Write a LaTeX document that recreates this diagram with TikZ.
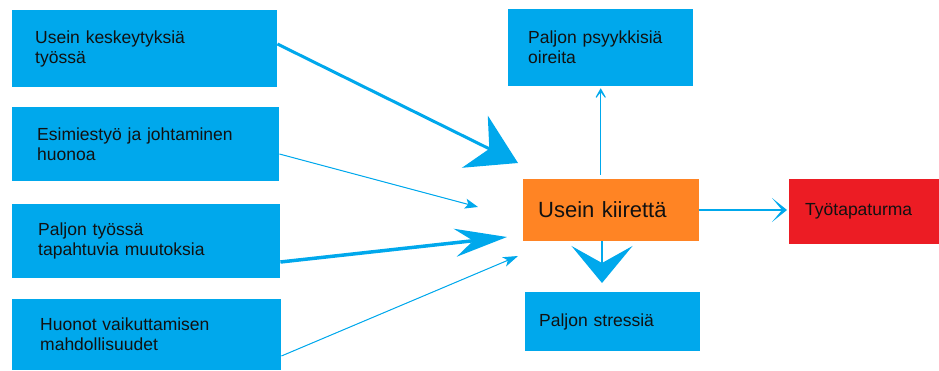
\documentclass[tikz,border=0pt]{standalone}
\usepackage{fontspec}
\setmainfont{Liberation Sans}
\usetikzlibrary{arrows.meta}
\definecolor{cblue}{HTML}{00A8EC}
\definecolor{corange}{HTML}{FF8424}
\definecolor{cred}{HTML}{EC1C24}
\definecolor{ctext}{HTML}{111111}
\begin{document}
\begin{tikzpicture}[x=1pt,y=-1pt,
  box/.style={fill=cblue, anchor=west, align=left, inner ysep=0pt,
    font=\fontsize{17.5}{20}\selectfont, text=ctext},
  conn/.style={draw=cblue, fill=cblue}]
\useasboundingbox (0,0) rectangle (939,370);
% left boxes
\node[box, minimum height=77pt, inner xsep=23pt, text width=219pt] (b1) at (12,48.5) {Usein keskeytyksiä\\työssä};
\node[box, minimum height=74pt, inner xsep=25pt, text width=217pt] (b2) at (12,144) {Esimiestyö ja johtaminen\\huonoa};
\node[box, minimum height=74pt, inner xsep=26pt, text width=216pt] (b3) at (12,241) {Paljon työssä\\tapahtuvia muutoksia};
\node[box, minimum height=71pt, inner xsep=28pt, text width=213pt] (b4) at (12,334.5) {Huonot vaikuttamisen\\mahdollisuudet};
% right side
\node[box, minimum height=77pt, inner xsep=20pt, text width=145pt] (psyk) at (508,47.5) {Paljon psyykkisiä\\oireita\\[6pt]};
\node[box, fill=corange, minimum height=62pt, inner xsep=15pt, text width=146pt, font=\fontsize{22}{26}\selectfont] (ko) at (523,210) {Usein kiirettä};
\node[box, minimum height=59pt, inner xsep=14pt, text width=147pt] (st) at (525,321.5) {Paljon stressiä};
\node[box, fill=cred, minimum height=65pt, inner xsep=16pt, text width=118pt] (red) at (789,211.5) {Työtapaturma};
% arrow tips
\coordinate (t1) at (518,163);
\coordinate (t2) at (478,207);
\coordinate (t3) at (507,237);
\coordinate (t4) at (518,256);
\coordinate (td) at (602,283);
% connectors
\draw[conn, line width=3pt, -{Stealth[length=48pt,width=58pt,inset=16pt]}] ([yshift=4.5pt]b1.east) -- (t1);
\draw[conn, line width=1pt, -{Stealth[length=13pt,width=10pt,inset=3pt]}] ([yshift=-10pt]b2.east) -- (t2);
\draw[conn, line width=3.5pt, -{Stealth[length=52pt,width=28pt,inset=18pt]}] ([yshift=-21pt]b3.east) -- (t3);
\draw[conn, line width=1pt, -{Stealth[length=15pt,width=10pt,inset=4pt]}] ([yshift=-21.5pt]b4.east) -- (t4);
\draw[conn, line width=1.5pt, -{Stealth[length=15pt,width=17pt,inset=11pt]}] ([yshift=4pt]psyk.south |- ko.north) -- ([yshift=-2pt]psyk.south);
\draw[conn, line width=1.5pt, -{Stealth[length=37pt,width=61pt,inset=17pt]}] (td |- ko.south) -- (td);
\draw[conn, line width=1.5pt, -{Stealth[length=15pt,width=24pt,inset=10pt]}] (ko.east) -- ([xshift=-2pt]ko.east -| red.west);
\end{tikzpicture}
\end{document}
